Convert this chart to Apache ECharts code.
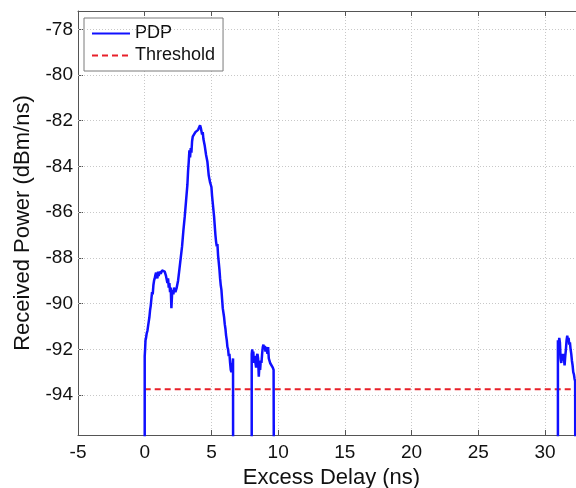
<!DOCTYPE html>
<html>
<head>
<meta charset="utf-8">
<script src="https://cdn.jsdelivr.net/npm/echarts@6/dist/echarts.min.js"></script>
<style>html,body{margin:0;padding:0;background:#fff;}#c{width:576px;height:488px;}</style>
</head>
<body>
<div id="c"></div>
<script>
// ---- data ----
const xTicks = [-5, 0, 5, 10, 15, 20, 25, 30];
const yTicks = [-94, -92, -90, -88, -86, -84, -82, -80, -78];
const floorValue = -100; // power below the visible range (no signal)

const pdpX = [
  0.0, 0.0, 0.03, 0.06, 0.1, 0.15, 0.2, 0.25, 0.3, 0.35, 0.4, 0.45, 0.5, 0.55, 0.6, 0.65, 0.7, 0.75, 0.8, 0.85,
  0.9, 0.95, 1.0, 1.05, 1.1, 1.2, 1.3, 1.4, 1.5, 1.6, 1.7, 1.75, 1.8, 1.85, 1.9, 1.95, 2.0, 2.05, 2.1, 2.15,
  2.2, 2.3, 2.4, 2.5, 2.6, 2.7, 2.8, 2.9, 3.0, 3.1, 3.2, 3.25, 3.3, 3.35, 3.4, 3.45, 3.5, 3.55, 3.6, 3.7,
  3.8, 3.9, 4.0, 4.1, 4.15, 4.2, 4.3, 4.35, 4.4, 4.5, 4.6, 4.7, 4.8, 4.9, 5.0, 5.05, 5.1, 5.2, 5.25, 5.3,
  5.35, 5.4, 5.45, 5.5, 5.55, 5.6, 5.65, 5.7, 5.75, 5.8, 5.85, 5.9, 5.95, 6.0, 6.05, 6.1, 6.15, 6.2, 6.25, 6.3,
  6.35, 6.4, 6.45, 6.5, 6.55, 6.6, 6.62, 6.63,
  8.02, 8.02, 8.06, 8.1, 8.14, 8.18, 8.22, 8.28, 8.35, 8.4, 8.45, 8.5, 8.55, 8.6, 8.65, 8.7, 8.75, 8.8, 8.85, 8.9,
  8.95, 9.0, 9.05, 9.1, 9.15, 9.2, 9.25, 9.3, 9.35, 9.4, 9.5, 9.6, 9.66, 9.69,
  30.97, 30.97, 31.02, 31.07, 31.12, 31.17, 31.22, 31.27, 31.32, 31.37, 31.42, 31.47, 31.52, 31.57, 31.62, 31.67, 31.72, 31.77, 31.82, 31.87,
  31.92, 31.97, 32.02, 32.07, 32.12, 32.17, 32.22, 32.26, 32.28
];
const pdpY = [
  floorValue, -92.3, -92.0, -91.6, -91.5, -91.3, -91.2, -91.0, -90.95, -90.6, -90.3, -90.1, -89.8, -89.5, -89.6, -89.2, -89.0, -88.9, -88.75, -88.65,
  -88.7, -88.9, -88.6, -88.8, -88.6, -88.7, -88.55, -88.5, -88.6, -88.8, -89.1, -88.9, -89.3, -89.1, -89.5, -89.3, -90.2, -89.6, -89.4, -89.6,
  -89.3, -89.5, -89.3, -89.0, -88.5, -88.0, -87.5, -86.8, -86.2, -85.5, -84.8, -84.2, -83.8, -83.3, -83.6, -83.2, -83.4, -82.9, -82.7, -82.6,
  -82.5, -82.45, -82.4, -82.35, -82.2, -82.3, -82.6, -82.5, -82.8, -83.1, -83.5, -83.8, -84.4, -84.7, -84.9, -85.3, -85.6, -86.2, -86.6, -87.0,
  -87.3, -87.5, -87.4, -87.9, -88.2, -88.5, -88.9, -89.2, -89.4, -89.8, -90.2, -90.4, -90.6, -90.9, -91.1, -91.4, -91.6, -91.9, -92.0, -92.3,
  -92.2, -92.6, -92.9, -93.0, -92.7, -92.6, -92.4, floorValue,
  floorValue, -92.2, -92.0, -92.4, -92.1, -92.6, -92.3, -92.5, -92.8, -92.3, -92.2, -92.4, -93.2, -92.7, -92.9, -92.5, -92.6, -92.2, -91.9, -91.8,
  -92.0, -91.85, -92.1, -91.9, -91.85, -92.2, -91.9, -92.4, -92.5, -92.6, -92.65, -92.8, -92.9, floorValue,
  floorValue, -91.6, -92.0, -91.5, -91.7, -92.4, -92.6, -92.2, -92.5, -92.2, -92.4, -92.7, -92.3, -92.0, -91.6, -91.4, -91.6, -91.5, -91.8, -91.7,
  -92.0, -92.2, -92.5, -92.7, -93.0, -93.1, -93.3, -93.4, floorValue
];
const thresholdX = [0, 33];
const thresholdY = [-93.75, -93.75];

const xRange = [-5, 33];
const yRange = [-95.75, -77.2];

// ---- chart ----
const font = 'Liberation Sans, Arial, sans-serif';
const chart = echarts.init(document.getElementById('c'), null, {renderer: 'canvas'});
const pdpData = pdpX.map((x, i) => [x, pdpY[i]]);
const thrData = thresholdX.map((x, i) => [x, thresholdY[i]]);

chart.setOption({
  animation: false,
  backgroundColor: '#ffffff',
  grid: {left: 78, right: -9, top: 11, bottom: 53, containLabel: false, outerBoundsMode: 'none'},
  legend: {
    left: 84, top: 18, orient: 'vertical',
    backgroundColor: '#ffffff', borderColor: '#7a7a7a', borderWidth: 1, borderRadius: 0,
    padding: [5, 8, 5, 7], itemWidth: 38, itemHeight: 12, itemGap: 1,
    itemStyle: {opacity: 0},
    textStyle: {fontFamily: font, fontSize: 18, color: '#111', lineHeight: 21},
    data: [{name: 'PDP'}, {name: 'Threshold'}]
  },
  xAxis: [{
    type: 'value', min: xRange[0], max: xRange[1], interval: 5,
    name: 'Excess Delay (ns)', nameLocation: 'middle', nameGap: 29,
    nameTextStyle: {fontFamily: font, fontSize: 22, color: '#111'},
    axisLine: {show: true, onZero: false, lineStyle: {color: '#555', width: 1}},
    axisTick: {show: true, inside: true, length: 5, lineStyle: {color: '#555'}},
    axisLabel: {fontFamily: font, fontSize: 19, color: '#111', margin: 8, showMaxLabel: false},
    splitLine: {show: true, lineStyle: {color: '#c8c8c8', type: [1, 2], width: 1}}
  }, {
    type: 'value', position: 'top', min: xRange[0], max: xRange[1], interval: 5,
    axisLine: {show: true, onZero: false, lineStyle: {color: '#555', width: 1}},
    axisTick: {show: true, inside: true, length: 5, lineStyle: {color: '#555'}},
    axisLabel: {show: false}, splitLine: {show: false}
  }],
  yAxis: [{
    type: 'value', min: yRange[0], max: yRange[1],
    name: 'Received Power (dBm/ns)', nameLocation: 'middle', nameGap: 44,
    nameTextStyle: {fontFamily: font, fontSize: 22, color: '#111'},
    axisLine: {show: true, onZero: false, lineStyle: {color: '#555', width: 1}},
    axisTick: {show: true, inside: true, length: 5, lineStyle: {color: '#555'}, customValues: yTicks},
    axisLabel: {fontFamily: font, fontSize: 19, color: '#111', margin: 5, customValues: yTicks},
    splitLine: {show: false}
  }],
  series: [{
    name: 'PDP', type: 'line', data: pdpData, showSymbol: false, symbol: 'none',
    clip: true, z: 5,
    lineStyle: {color: '#1010ff', width: 2.5},
    itemStyle: {color: '#1010ff'}
  }, {
    name: 'Threshold', type: 'line', data: thrData, showSymbol: false, symbol: 'none',
    clip: true, z: 4,
    lineStyle: {color: '#e8202a', width: 2, type: [6, 4]},
    itemStyle: {color: '#e8202a'},
    markLine: {
      silent: true, symbol: 'none', animation: false, label: {show: false},
      lineStyle: {color: '#c8c8c8', type: [1, 2], width: 1},
      data: yTicks.map(v => ({yAxis: v}))
    }
  }]
});
</script>
</body>
</html>
